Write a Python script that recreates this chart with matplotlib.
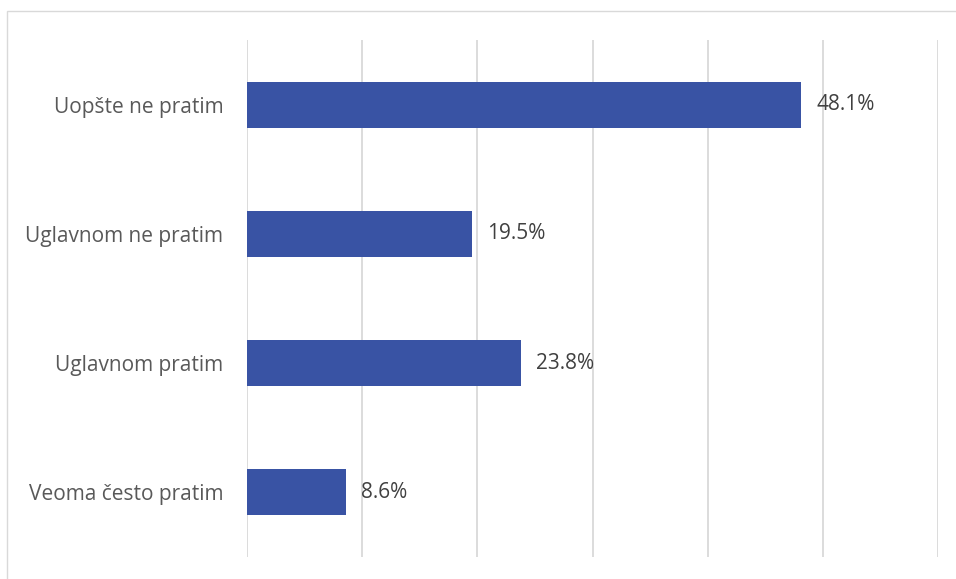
import matplotlib
matplotlib.use("Agg")
import matplotlib.pyplot as plt
from matplotlib.patches import Rectangle

categories = ["Uopšte ne pratim", "Uglavnom ne pratim", "Uglavnom pratim", "Veoma često pratim"]
values = [48.1, 19.5, 23.8, 8.6]
labels = ["48.1%", "19.5%", "23.8%", "8.6%"]

plt.rcParams['font.family'] = ['Open Sans', 'DejaVu Sans']

fig = plt.figure(figsize=(9.56, 5.79), dpi=100)
fig.patches.append(Rectangle((7/956, -0.01), 1.0, 1 - 11/579 + 0.01, transform=fig.transFigure,
                             fill=False, edgecolor='#D9D9D9', linewidth=1.0))
ax = fig.add_axes([247/956, 1 - 557/579, (938 - 247)/956, (557 - 40)/579])

ypos = list(range(len(categories)))
ax.barh(ypos, values, height=0.355, color='#3953A4', zorder=3)
ax.set_ylim(len(categories) - 0.5, -0.5)
ax.set_xlim(0, 60)
ax.set_xticks([0, 10, 20, 30, 40, 50, 60])
ax.set_xticklabels([])
ax.grid(axis='x', color='#D9D9D9', linewidth=1.3, zorder=0)
ax.set_yticks(ypos)
ax.set_yticklabels(categories, fontsize=15, color='#595959')
ax.tick_params(axis='both', length=0)
ax.tick_params(axis='y', pad=17)
for s in ax.spines.values():
    s.set_visible(False)

for y, v, lab in zip(ypos, values, labels):
    ax.annotate(lab, (v, y), xytext=(11, 0), textcoords='offset points',
                va='center', ha='left', fontsize=15, color='#404040')

fig.savefig("out.png", dpi=100)
